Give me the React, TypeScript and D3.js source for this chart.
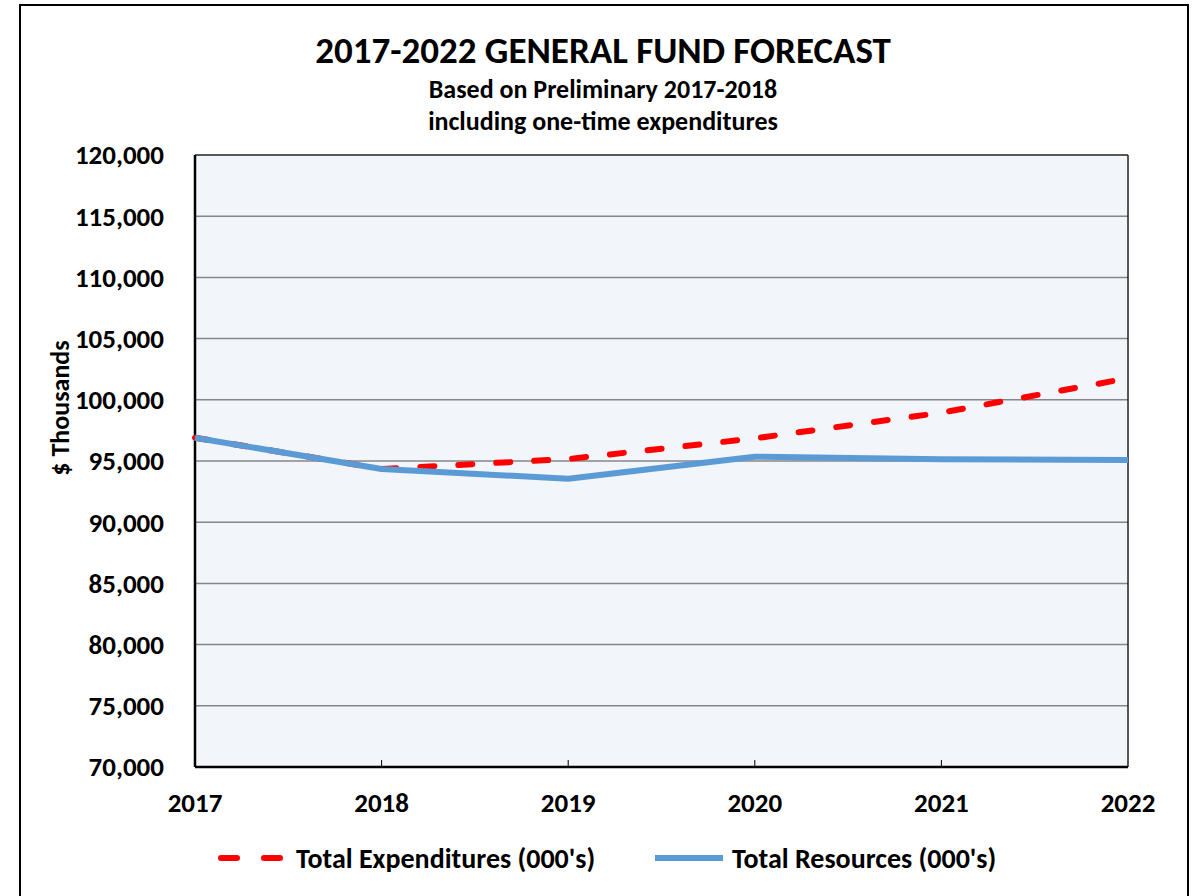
import React from 'react'
import * as d3 from 'd3'

const years = [2017, 2018, 2019, 2020, 2021, 2022]
const expenditures = [96900, 94350, 95160, 96850, 98950, 101760]
const resources = [96900, 94350, 93550, 95350, 95150, 95080]
const yTicks = [70000, 75000, 80000, 85000, 90000, 95000, 100000, 105000, 110000, 115000, 120000]

const FONT = "Carlito, Lato, 'Open Sans', sans-serif"

const App: React.FC = () => {
  const W = 1198
  const H = 896
  const plot = { left: 195, right: 1128, top: 155, bottom: 767 }

  const x = d3.scaleLinear().domain([2017, 2022]).range([plot.left, plot.right])
  const y = d3.scaleLinear().domain([70000, 120000]).range([plot.bottom, plot.top])

  const line = d3.line<number>()
    .x((_, i) => x(years[i]))
    .y(d => y(d))

  const fmt = d3.format(',')

  return (
    <svg width={W} height={H} style={{ position: 'absolute', left: 0, top: 0, fontFamily: FONT }}>
      <rect x={0} y={0} width={W} height={H} fill="#fff" />
      {/* outer border */}
      <rect x={20} y={5} width={1168} height={H + 20} fill="none" stroke="#000" strokeWidth={2} />

      {/* titles */}
      <text x={603} y={50} dy="0.35em" textAnchor="middle" fontSize={37} fontWeight="bold">2017-2022 GENERAL FUND FORECAST</text>
      <text x={603} y={89} dy="0.35em" textAnchor="middle" fontSize={26} fontWeight="bold">Based on Preliminary 2017-2018</text>
      <text x={603} y={121} dy="0.35em" textAnchor="middle" fontSize={26} fontWeight="bold">including one-time expenditures</text>

      {/* plot area */}
      <rect x={plot.left} y={plot.top} width={plot.right - plot.left} height={plot.bottom - plot.top} fill="#F2F5FA" />
      {yTicks.slice(1, -1).map(t => (
        <line key={t} x1={plot.left} x2={plot.right} y1={y(t)} y2={y(t)} stroke="#868686" strokeWidth={1.5} />
      ))}
      <line x1={plot.left} x2={plot.right} y1={plot.top} y2={plot.top} stroke="#222" strokeWidth={1.5} />
      <line x1={plot.right} x2={plot.right} y1={plot.top} y2={plot.bottom} stroke="#222" strokeWidth={1.5} />
      {years.slice(1, -1).map(yr => (
        <line key={yr} x1={x(yr)} x2={x(yr)} y1={plot.bottom} y2={plot.bottom - 7} stroke="#000" strokeWidth={1} />
      ))}
      <line x1={plot.left} x2={plot.left} y1={plot.top} y2={plot.bottom} stroke="#000" strokeWidth={2.5} />
      <line x1={plot.left} x2={plot.right} y1={plot.bottom} y2={plot.bottom} stroke="#000" strokeWidth={2.5} />

      {/* y tick labels */}
      {yTicks.map(t => (
        <text key={t} x={164} y={y(t)} dy="0.35em" textAnchor="end" fontSize={27} fontWeight="bold">{fmt(t)}</text>
      ))}
      <text transform={`translate(60, 408) rotate(-90)`} dy="0.35em" textAnchor="middle" fontSize={26} fontWeight="bold">$ Thousands</text>

      {/* x tick labels */}
      {years.map(yr => (
        <text key={yr} x={x(yr)} y={803} dy="0.35em" textAnchor="middle" fontSize={27} fontWeight="bold">{yr}</text>
      ))}

      {/* series */}
      <path d={line(expenditures) || ''} fill="none" stroke="#FF0000" strokeWidth={6} strokeDasharray="14,24" strokeLinecap="round" />
      <path d={line(resources) || ''} fill="none" stroke="#5B9BD5" strokeWidth={6} strokeLinejoin="round" />

      {/* legend */}
      <line x1={221} x2={281} y1={858} y2={858} stroke="#FF0000" strokeWidth={6} strokeDasharray="16,27" strokeLinecap="round" />
      <text x={296} y={858} dy="0.35em" fontSize={28} fontWeight="bold">Total Expenditures (000's)</text>
      <line x1={655} x2={723} y1={858} y2={858} stroke="#5B9BD5" strokeWidth={6} />
      <text x={732} y={858} dy="0.35em" fontSize={28} fontWeight="bold">Total Resources (000's)</text>
    </svg>
  )
}

export default App
